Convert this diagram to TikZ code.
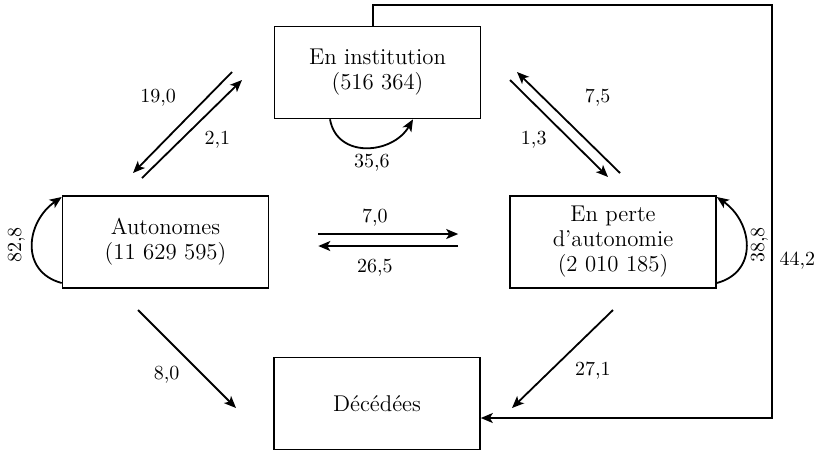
\documentclass[tikz,border=0pt]{standalone}
\usetikzlibrary{arrows.meta}

\begin{document}
\begin{tikzpicture}[>={Stealth[length=6pt, width=5pt, inset=1.5pt]}, x=0.5pt, y=-0.5pt,
    etat/.style={draw, thick, minimum width=103pt, minimum height=46pt,
      align=center, font=\fontsize{11.4}{12.5}\selectfont},
    fleche/.style={->, line width=0.9pt},
    taux/.style={font=\fontsize{10}{12}\selectfont}]
  \useasboundingbox (0,0) rectangle (817,452);

  \node[etat] (inst)  at (377.5,72.5) {En institution\\(516 364)};
  \node[etat] (auto)  at (165.5,242)  {Autonomes\\(11 629 595)};
  \node[etat] (perte) at (613,242)    {En perte\\d'autonomie\\(2 010 185)};
  \node[etat] (dec)   at (377,403.5)  {Décédées};

  % bouts libres des fleches
  \coordinate (ia0) at (232,72);  \coordinate (ia1) at (133,173);
  \coordinate (ai0) at (142,178); \coordinate (ai1) at (242,80);
  \coordinate (pi0) at (620,173); \coordinate (pi1) at (517,72);
  \coordinate (ip0) at (510,80);  \coordinate (ip1) at (608,177);
  \coordinate (ad0) at (138,310); \coordinate (ad1) at (236,408);
  \coordinate (pd0) at (613,310); \coordinate (pd1) at (512,408);
  \coordinate (coin) at (772,5);

  \path[fleche,taux]
    (ia0) edge node[pos=0.45, above left=2pt] (t190) {19,0} (ia1)
    (ai0) edge node[pos=0.55, below right] (t21) {2,1} (ai1)
    (pi0) edge node[pos=0.55, above right=2pt, xshift=5pt] (t75) {7,5} (pi1)
    (ip0) edge node[pos=0.45, below left] (t13) {1,3} (ip1)
    (ad0) edge node[pos=0.5, below left] (t80) {8,0} (ad1)
    (pd0) edge node[pos=0.45, below right] (t271) {27,1} (pd1);

  \path[fleche,taux]
    ([yshift=4pt]auto.east) edge[shorten <=24.5pt, shorten >=25.5pt]
      node[pos=0.44, above] (t70) {7,0} ([yshift=4pt]perte.west)
    ([yshift=-2pt]perte.west) edge[shorten <=25.5pt, shorten >=24.5pt]
      node[pos=0.56, below=3pt] (t265) {26,5} ([yshift=-2pt]auto.east);

  % boucles
  \path[fleche,taux]
    ([yshift=-20.5pt]auto.west) edge[out=165, in=215, looseness=1.3]
      node[rotate=90, anchor=south] (t828) {82,8} ([yshift=22.5pt]auto.west)
    ([yshift=-20.5pt]perte.east) edge[out=15, in=-35, looseness=1.3]
      node[rotate=90, anchor=north, inner sep=2pt] (t388) {38,8} ([yshift=22.5pt]perte.east)
    ([xshift=-23.75pt]inst.south) edge[out=-80, in=-120, looseness=1.25]
      node[pos=0.55, below] (t356) {35,6} ([xshift=17.75pt]inst.south);

  \draw[fleche] ([xshift=-2.25pt]inst.north) |- (coin)
    |- node[taux, pos=0.31, right] (t442) {44,2} ([yshift=-7.25pt]dec.east);
\end{tikzpicture}
\end{document}
